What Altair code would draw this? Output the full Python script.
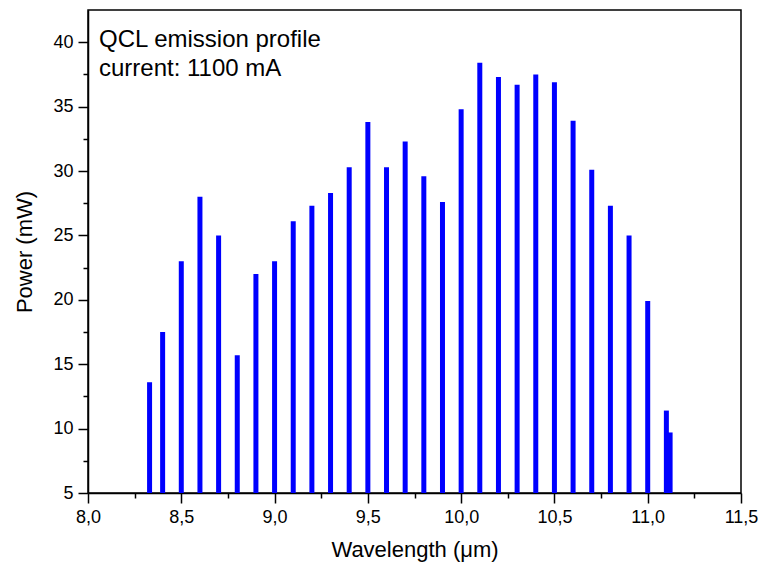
import altair as alt
import pandas as pd

# Data
wavelength = [8.33, 8.40, 8.50, 8.60, 8.70, 8.80, 8.90, 9.00, 9.10, 9.20,
              9.30, 9.40, 9.50, 9.60, 9.70, 9.80, 9.90, 10.00, 10.10, 10.20,
              10.30, 10.40, 10.50, 10.60, 10.70, 10.80, 10.90, 11.00, 11.10, 11.12]
power = [13.6, 17.5, 23.0, 28.0, 25.0, 15.7, 22.0, 23.0, 26.1, 27.3,
         28.3, 30.3, 33.8, 30.3, 32.3, 29.6, 27.6, 34.8, 38.4, 37.3,
         36.7, 37.5, 36.9, 33.9, 30.1, 27.3, 25.0, 19.9, 11.4, 9.7]
x_ticks = [8.0 + 0.25 * i for i in range(15)]
y_ticks = [5.0 + 2.5 * i for i in range(15)]
notes = ["QCL emission profile", "current: 1100 mA"]

df = pd.DataFrame({"wl": wavelength, "p": power})

FONT = "Liberation Sans"

x_enc = alt.X(
    "wl:Q",
    scale=alt.Scale(domain=[8.0, 11.5], nice=False, zero=False),
    axis=alt.Axis(
        title="Wavelength (\u03bcm)",
        values=x_ticks,
        labelExpr="datum.value % 0.5 === 0 ? replace(format(datum.value, '.1f'), '.', ',') : ''",
        tickSize={"condition": {"test": "datum.value % 0.5 === 0", "value": 10}, "value": 5},
        labelPadding=5,
        labelFlush=False,
        labelOverlap=False,
        titlePadding=13,
        grid=False,
    ),
)
y_enc = alt.Y(
    "p:Q",
    scale=alt.Scale(domain=[5, 42.5], nice=False, zero=False),
    axis=alt.Axis(
        title="Power (mW)",
        values=y_ticks,
        labelExpr="datum.value % 5 === 0 ? format(datum.value, 'd') : ''",
        tickSize={"condition": {"test": "datum.value % 5 === 0", "value": 10}, "value": 5},
        labelPadding=5,
        labelOverlap=False,
        titlePadding=16,
        grid=False,
    ),
)

bars = alt.Chart(df).mark_rule(color="#0000ff", strokeWidth=5).encode(
    x=x_enc,
    y=y_enc,
    y2=alt.datum(5),
)

note1 = alt.Chart(pd.DataFrame({"t": [notes[0]]})).mark_text(
    align="left", baseline="alphabetic", font=FONT, fontSize=24, color="black"
).encode(x=alt.value(11), y=alt.value(37), text="t:N")
note2 = alt.Chart(pd.DataFrame({"t": [notes[1]]})).mark_text(
    align="left", baseline="alphabetic", font=FONT, fontSize=24, color="black"
).encode(x=alt.value(11), y=alt.value(66), text="t:N")

chart = (
    alt.layer(bars, note1, note2)
    .properties(
        width=653,
        height=483,
        background="white",
        autosize=alt.AutoSizeParams(type="none"),
        padding={"left": 88, "top": 10, "right": 23, "bottom": 76},
    )
    .configure_view(stroke="black", strokeWidth=1.5)
    .configure_axis(
        domainColor="black",
        domainWidth=1.5,
        tickColor="black",
        tickWidth=1.5,
        labelFont=FONT,
        labelFontSize=18,
        labelColor="black",
        titleFont=FONT,
        titleFontSize=22,
        titleFontWeight="normal",
        titleColor="black",
    )
)

chart.save("out.html", embed_options={"renderer": "svg", "actions": False})
